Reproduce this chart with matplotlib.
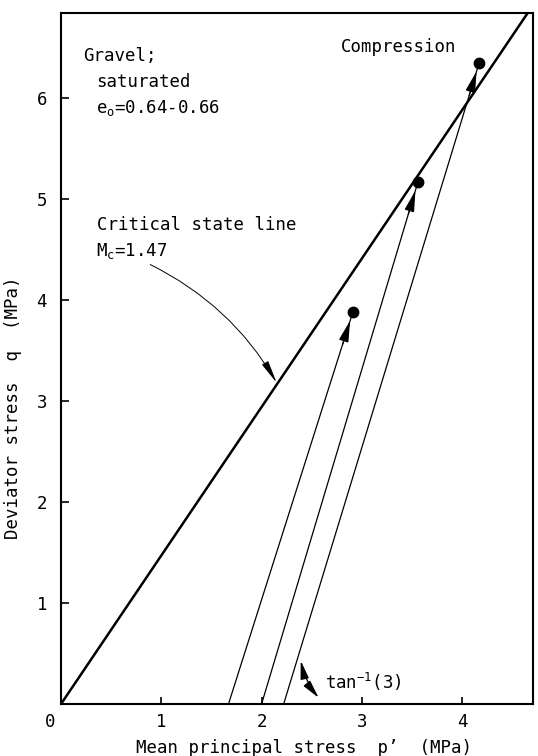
import matplotlib
matplotlib.use("Agg")
import matplotlib.pyplot as plt
import matplotlib.transforms as mtransforms
import numpy as np

plt.rcParams["font.family"] = ["DejaVu Sans Mono"]
plt.rcParams["mathtext.fontset"] = "custom"
plt.rcParams["mathtext.rm"] = "DejaVu Sans Mono"
plt.rcParams["mathtext.it"] = "DejaVu Sans Mono"

# critical state line slope
Mc = 1.47

# stress paths: start p' on the axis, end point (p', q) at failure
path_start = [1.67, 2.00, 2.22]
path_end_p = [2.91, 3.56, 4.17]
path_end_q = [3.88, 5.17, 6.35]

x_ticks = [0, 1, 2, 3, 4]
y_ticks = [1, 2, 3, 4, 5, 6]
xmax, ymax = 4.706, 6.84

fig = plt.figure(figsize=(5.38, 7.56), dpi=100)
ax = fig.add_axes([0.1134, 0.0688, 0.8773, 0.914])

fs = 12.5

# critical state line
pp = np.array([0, xmax])
ax.plot(pp, Mc * pp, color="k", linewidth=1.8, solid_capstyle="butt")

# stress paths with arrowheads and failure dots
for p0, p1, q1 in zip(path_start, path_end_p, path_end_q):
    ax.plot([p0, p1], [0, q1], color="k", linewidth=0.9)
    d = np.array([p1 - p0, q1])
    d = d / np.hypot(*d)
    tip = np.array([p1, q1]) - 0.09 * d
    tail = tip - 0.25 * d
    ax.annotate("", xy=tip, xytext=tail,
                arrowprops=dict(arrowstyle="-|>,head_length=1.3,head_width=0.3",
                                color="k", lw=0.9, shrinkA=0, shrinkB=0))
    ax.plot(p1, q1, "o", color="k", markersize=7.5)

# labels inside the plot
ax.text(0.22, 6.41, "Gravel;", fontsize=fs, va="center")
ax.text(0.35, 6.16, "saturated", fontsize=fs, va="center")
ax.text(0.35, 5.90, r"e$_\mathrm{o}$=0.64-0.66", fontsize=fs, va="center")
ax.text(2.79, 6.50, "Compression", fontsize=fs, va="center")
ax.text(0.36, 4.74, "Critical state line", fontsize=fs, va="center")
ax.text(0.35, 4.48, r"M$_\mathrm{c}$=1.47", fontsize=fs, va="center")
ax.text(2.63, 0.22, r"tan$^\mathrm{-1}$(3)", fontsize=fs, va="center")

ax.annotate("", xy=(2.15, 3.18), xytext=(0.89, 4.35),
            arrowprops=dict(arrowstyle="-|>,head_length=1.4,head_width=0.22",
                            color="k", lw=0.7, shrinkA=0, shrinkB=0,
                            connectionstyle="arc3,rad=-0.15"))
ax.annotate("", xy=(2.57, 0.06), xytext=(2.39, 0.43),
            arrowprops=dict(arrowstyle="<|-|>,head_length=1.1,head_width=0.25",
                            color="k", lw=1.0, shrinkA=0, shrinkB=0,
                            connectionstyle="arc3,rad=0.12"))

ax.set_xlim(0, xmax)
ax.set_ylim(0, ymax)
ax.set_xticks(x_ticks)
ax.set_xticklabels([str(t) for t in x_ticks])
ax.set_yticks(y_ticks)
ax.set_yticklabels([str(t) for t in y_ticks])
ax.tick_params(axis="x", direction="in", length=5, width=1.2, pad=6.5, labelsize=fs)
ax.tick_params(axis="y", direction="in", length=6, width=1.2, pad=10, labelsize=fs)
for s in ax.spines.values():
    s.set_linewidth(1.5)

# shift the "0" label left into the corner
offset = mtransforms.ScaledTranslation(-11 / 100, 0, fig.dpi_scale_trans)
lab0 = ax.get_xticklabels()[0]
lab0.set_transform(lab0.get_transform() + offset)

ax.set_xlabel("Mean principal stress  p’  (MPa)", fontsize=fs)
ax.set_ylabel("Deviator stress  q  (MPa)", fontsize=fs)
ax.xaxis.set_label_coords(0.514, -0.050)
ax.yaxis.set_label_coords(-0.083, 0.428)

fig.savefig("out.png", dpi=100)
